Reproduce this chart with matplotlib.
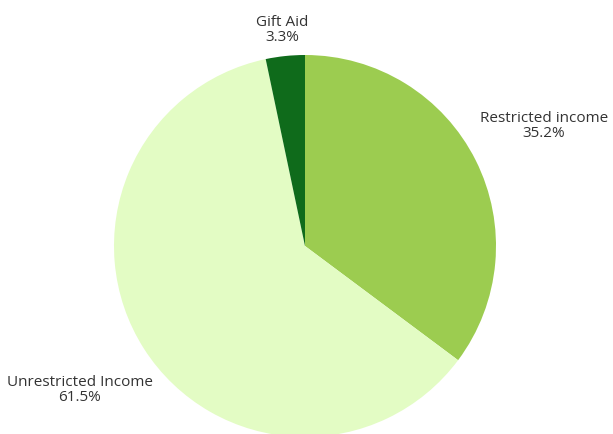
import numpy as np
import matplotlib
matplotlib.use("Agg")
import matplotlib.pyplot as plt

categories = ["Restricted income", "Unrestricted Income", "Gift Aid"]
values = [35.2, 61.5, 3.3]
colors = ["#9ccc50", "#e3fcc4", "#0f6b1b"]
label_dist = [1.40, 1.40, 1.135]

plt.rcParams['font.family'] = ['Open Sans', 'DejaVu Sans']

fig = plt.figure(figsize=(6.13, 4.34), dpi=100)
ax = fig.add_axes([0, 0, 1, 1])
cx, cy, r = 305, 434 - 246, 191
wedges, _ = ax.pie(values, colors=colors, startangle=90, counterclock=False,
                   center=(cx, cy), radius=r, wedgeprops=dict(linewidth=0))
for w, cat, v, d in zip(wedges, categories, values, label_dist):
    ang = np.deg2rad((w.theta1 + w.theta2) / 2)
    x = cx + d * r * np.cos(ang)
    y = cy + d * r * np.sin(ang)
    ax.text(x, y, f"{cat}\n{v}%", ha='center', va='center', fontsize=11,
            color='#333333', linespacing=1.0)
ax.set_xlim(0, 613)
ax.set_ylim(0, 434)
ax.axis('off')
fig.savefig("out.png", dpi=100)
